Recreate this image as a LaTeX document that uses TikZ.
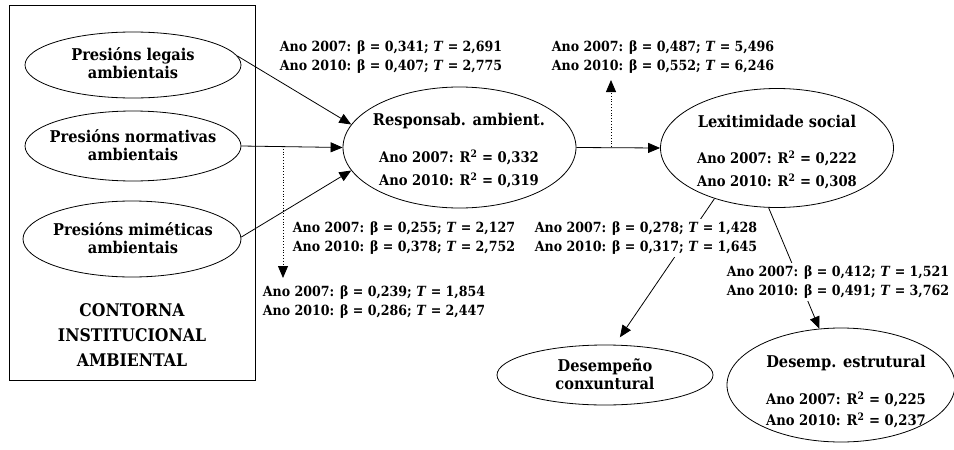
\documentclass[tikz,border=0pt]{standalone}
\usepackage{fontspec}
\setmainfont{DejaVu Serif Condensed}
\usetikzlibrary{shapes.geometric,arrows.meta}
\begin{document}
\begin{tikzpicture}[x=1pt,y=-1pt,
  ell/.style={draw, ellipse, inner sep=0pt, line width=0.8pt},
  ttl/.style={font=\bfseries\fontsize{16.2}{18.5}\selectfont, align=center, inner sep=0pt},
  rtwo/.style={font=\bfseries\fontsize{14.6}{23}\selectfont, align=center, inner sep=0pt},
  lab/.style={font=\bfseries\fontsize{14}{19.5}\selectfont, align=center, inner sep=2pt, fill=white},
  conn/.style={line width=0.8pt, -{Triangle[length=12pt,width=10pt]}},
  dconn/.style={conn, dotted}]
\useasboundingbox (0,0) rectangle (954,450);
% environment box
\node[draw, line width=0.8pt, minimum width=246pt, minimum height=375pt, inner sep=0pt] (env) at (132,192.5) {};
\node[ttl, font=\bfseries\fontsize{17.4}{25}\selectfont] (envtext) at (132,335) {CONTORNA\\INSTITUCIONAL\\AMBIENTAL};
% ellipses
\node[ell, minimum width=216pt, minimum height=66pt] (legais) at (133,65) {};
\node[ell, minimum width=216pt, minimum height=70pt] (normat) at (133,146) {};
\node[ell, minimum width=218pt, minimum height=76pt] (mimet) at (132,239) {};
\node[ell, minimum width=233pt, minimum height=121pt] (resp) at (459.5,147.5) {};
\node[ell, minimum width=233pt, minimum height=119pt] (lex) at (777,148) {};
\node[ell, minimum width=216pt, minimum height=60pt] (desconx) at (605,375) {};
\node[ell, minimum width=228pt, minimum height=114pt] (desest) at (841,385) {};
% texts inside
\node[ttl] (legaistext) at (133,63) {Presións legais\\ambientais};
\node[ttl] (normattext) at (133,145) {Presións normativas\\ambientais};
\node[ttl] (mimettext) at (133,238) {Presións miméticas\\ambientais};
\node[ttl] (desconxtext) at (605,374) {Desempeño\\conxuntural};
\node[ttl] (resptitle) at (459,121) {Responsab. ambient.};
\node[rtwo] (respr) at (459,169) {Ano 2007: R\textsuperscript{2} = 0,332\\Ano 2010: R\textsuperscript{2} = 0,319};
\node[ttl] (lextitle) at (777,121) {Lexitimidade social};
\node[rtwo] (lexr) at (777,170) {Ano 2007: R\textsuperscript{2} = 0,222\\Ano 2010: R\textsuperscript{2} = 0,308};
\node[ttl] (desttitle) at (846,363) {Desemp. estrutural};
\node[rtwo, font=\bfseries\fontsize{14.6}{21}\selectfont] (destr) at (846,410) {Ano 2007: R\textsuperscript{2} = 0,225\\Ano 2010: R\textsuperscript{2} = 0,237};
% connectors
\coordinate (m1) at (283,146);
\coordinate (d1) at (283,278);
\coordinate (m2) at (611,147);
\coordinate (u2) at (611,80);
\draw[conn] (legais.5) -- (resp.168);
\draw[conn] (normat.east) -- (resp.west);
\draw[conn] (mimet.1) -- (resp.-168.5);
\draw[dconn] (m1) -- (d1);
\draw[conn] (resp.east) -- (lex.west);
\draw[dconn] (m2) -- (u2);
\draw[conn, shorten >=9pt] (lex.219) -- (desconx.72);
\draw[conn] (lex.262) -- (desest.111);
% labels
\node[lab] (l1) at (391,57) {Ano 2007: β = 0,341; \textit{T} = 2,691\\Ano 2010: β = 0,407; \textit{T} = 2,775};
\node[lab] (l2) at (663,57) {Ano 2007: β = 0,487; \textit{T} = 5,496\\Ano 2010: β = 0,552; \textit{T} = 6,246};
\node[lab] (l3) at (404,238) {Ano 2007: β = 0,255; \textit{T} = 2,127\\Ano 2010: β = 0,378; \textit{T} = 2,752};
\node[lab] (l4) at (374,302) {Ano 2007: β = 0,239; \textit{T} = 1,854\\Ano 2010: β = 0,286; \textit{T} = 2,447};
\node[lab] (l5) at (646,238) {Ano 2007: β = 0,278; \textit{T} = 1,428\\Ano 2010: β = 0,317; \textit{T} = 1,645};
\node[lab] (l6) at (838,282) {Ano 2007: β = 0,412; \textit{T} = 1,521\\Ano 2010: β = 0,491; \textit{T} = 3,762};
\end{tikzpicture}
\end{document}
